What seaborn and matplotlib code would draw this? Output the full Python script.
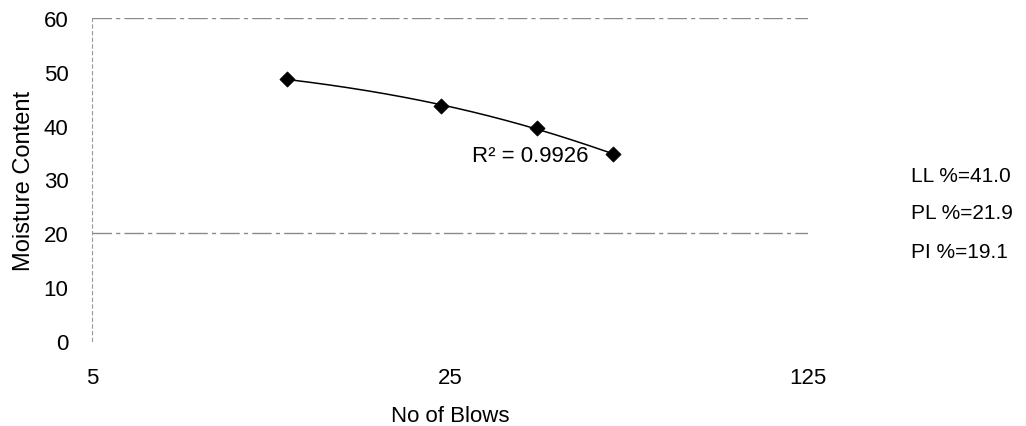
import numpy as np
import pandas as pd
import matplotlib
matplotlib.use("Agg")
import matplotlib.pyplot as plt
from matplotlib.ticker import NullLocator, FixedLocator, FixedFormatter
import seaborn as sns

# Liquid limit test results (Casagrande cup)
blows = [12, 24, 37, 52]
moisture = [48.7, 43.6, 39.6, 34.7]

x_ticks = [5, 25, 125]
x_tick_labels = ["5", "25", "125"]
y_ticks = [0, 10, 20, 30, 40, 50, 60]

r2_label = "R² = 0.9926"
limits = ["LL %=41.0", "PL %=21.9", "PI %=19.1"]

sns.set_style("white")
plt.rcParams["font.family"] = ["Liberation Sans", "DejaVu Sans"]
plt.rcParams["text.color"] = "black"
plt.rcParams["axes.labelcolor"] = "black"

df = pd.DataFrame({"blows": blows, "moisture": moisture})

# Second-order polynomial trendline through the test points
coef = np.polyfit(df["blows"], df["moisture"], 2)
xs = np.geomspace(min(blows), max(blows), 200)
trend = pd.DataFrame({"blows": xs, "moisture": np.polyval(coef, xs)})

fig = plt.figure(figsize=(10.26, 4.27), dpi=100)
ax = fig.add_axes([92 / 1026, 1 - 342 / 427, 716 / 1026, 323 / 427])

sns.lineplot(data=trend, x="blows", y="moisture", ax=ax, color="black",
             linewidth=1.1, zorder=3)
sns.scatterplot(data=df, x="blows", y="moisture", ax=ax, marker="D",
                color="black", s=60, edgecolor="black", linewidth=0.5,
                zorder=4)

ax.set_xscale("log", base=5)
ax.set_xlim(5, 125)
ax.xaxis.set_major_locator(FixedLocator(x_ticks))
ax.xaxis.set_major_formatter(FixedFormatter(x_tick_labels))
ax.xaxis.set_minor_locator(NullLocator())
ax.set_ylim(0, 60)
ax.set_yticks(y_ticks)

ax.tick_params(axis="both", length=0, labelsize=16, colors="black")
ax.tick_params(axis="y", pad=17)
ax.tick_params(axis="x", pad=19)

ax.set_xlabel("No of Blows", fontsize=16, labelpad=12, color="black")
ax.set_ylabel("Moisture Content", fontsize=17, labelpad=6, color="black")

# Faint gridlines: only the 20 and 60 levels are kept
ax.yaxis.grid(True, color="#8a8a8a", linewidth=1.0,
              linestyle=(0, (14, 3, 3, 3)))
for val, gl in zip(y_ticks, ax.get_ygridlines()):
    gl.set_visible(val in (20, 60))

for side in ("top", "right", "bottom"):
    ax.spines[side].set_visible(False)
ax.spines["left"].set_color("#9a9a9a")
ax.spines["left"].set_linewidth(0.8)
ax.spines["left"].set_linestyle((0, (3, 3)))

fig.text(472 / 1026, 1 - 157 / 427, r2_label, fontsize=16,
         ha="left", va="center", color="black")

for label, yp in zip(limits, [177, 214, 252]):
    fig.text(911 / 1026, 1 - yp / 427, label, fontsize=15,
             ha="left", va="center", color="black")

fig.savefig("out.png", dpi=100, facecolor="white")
